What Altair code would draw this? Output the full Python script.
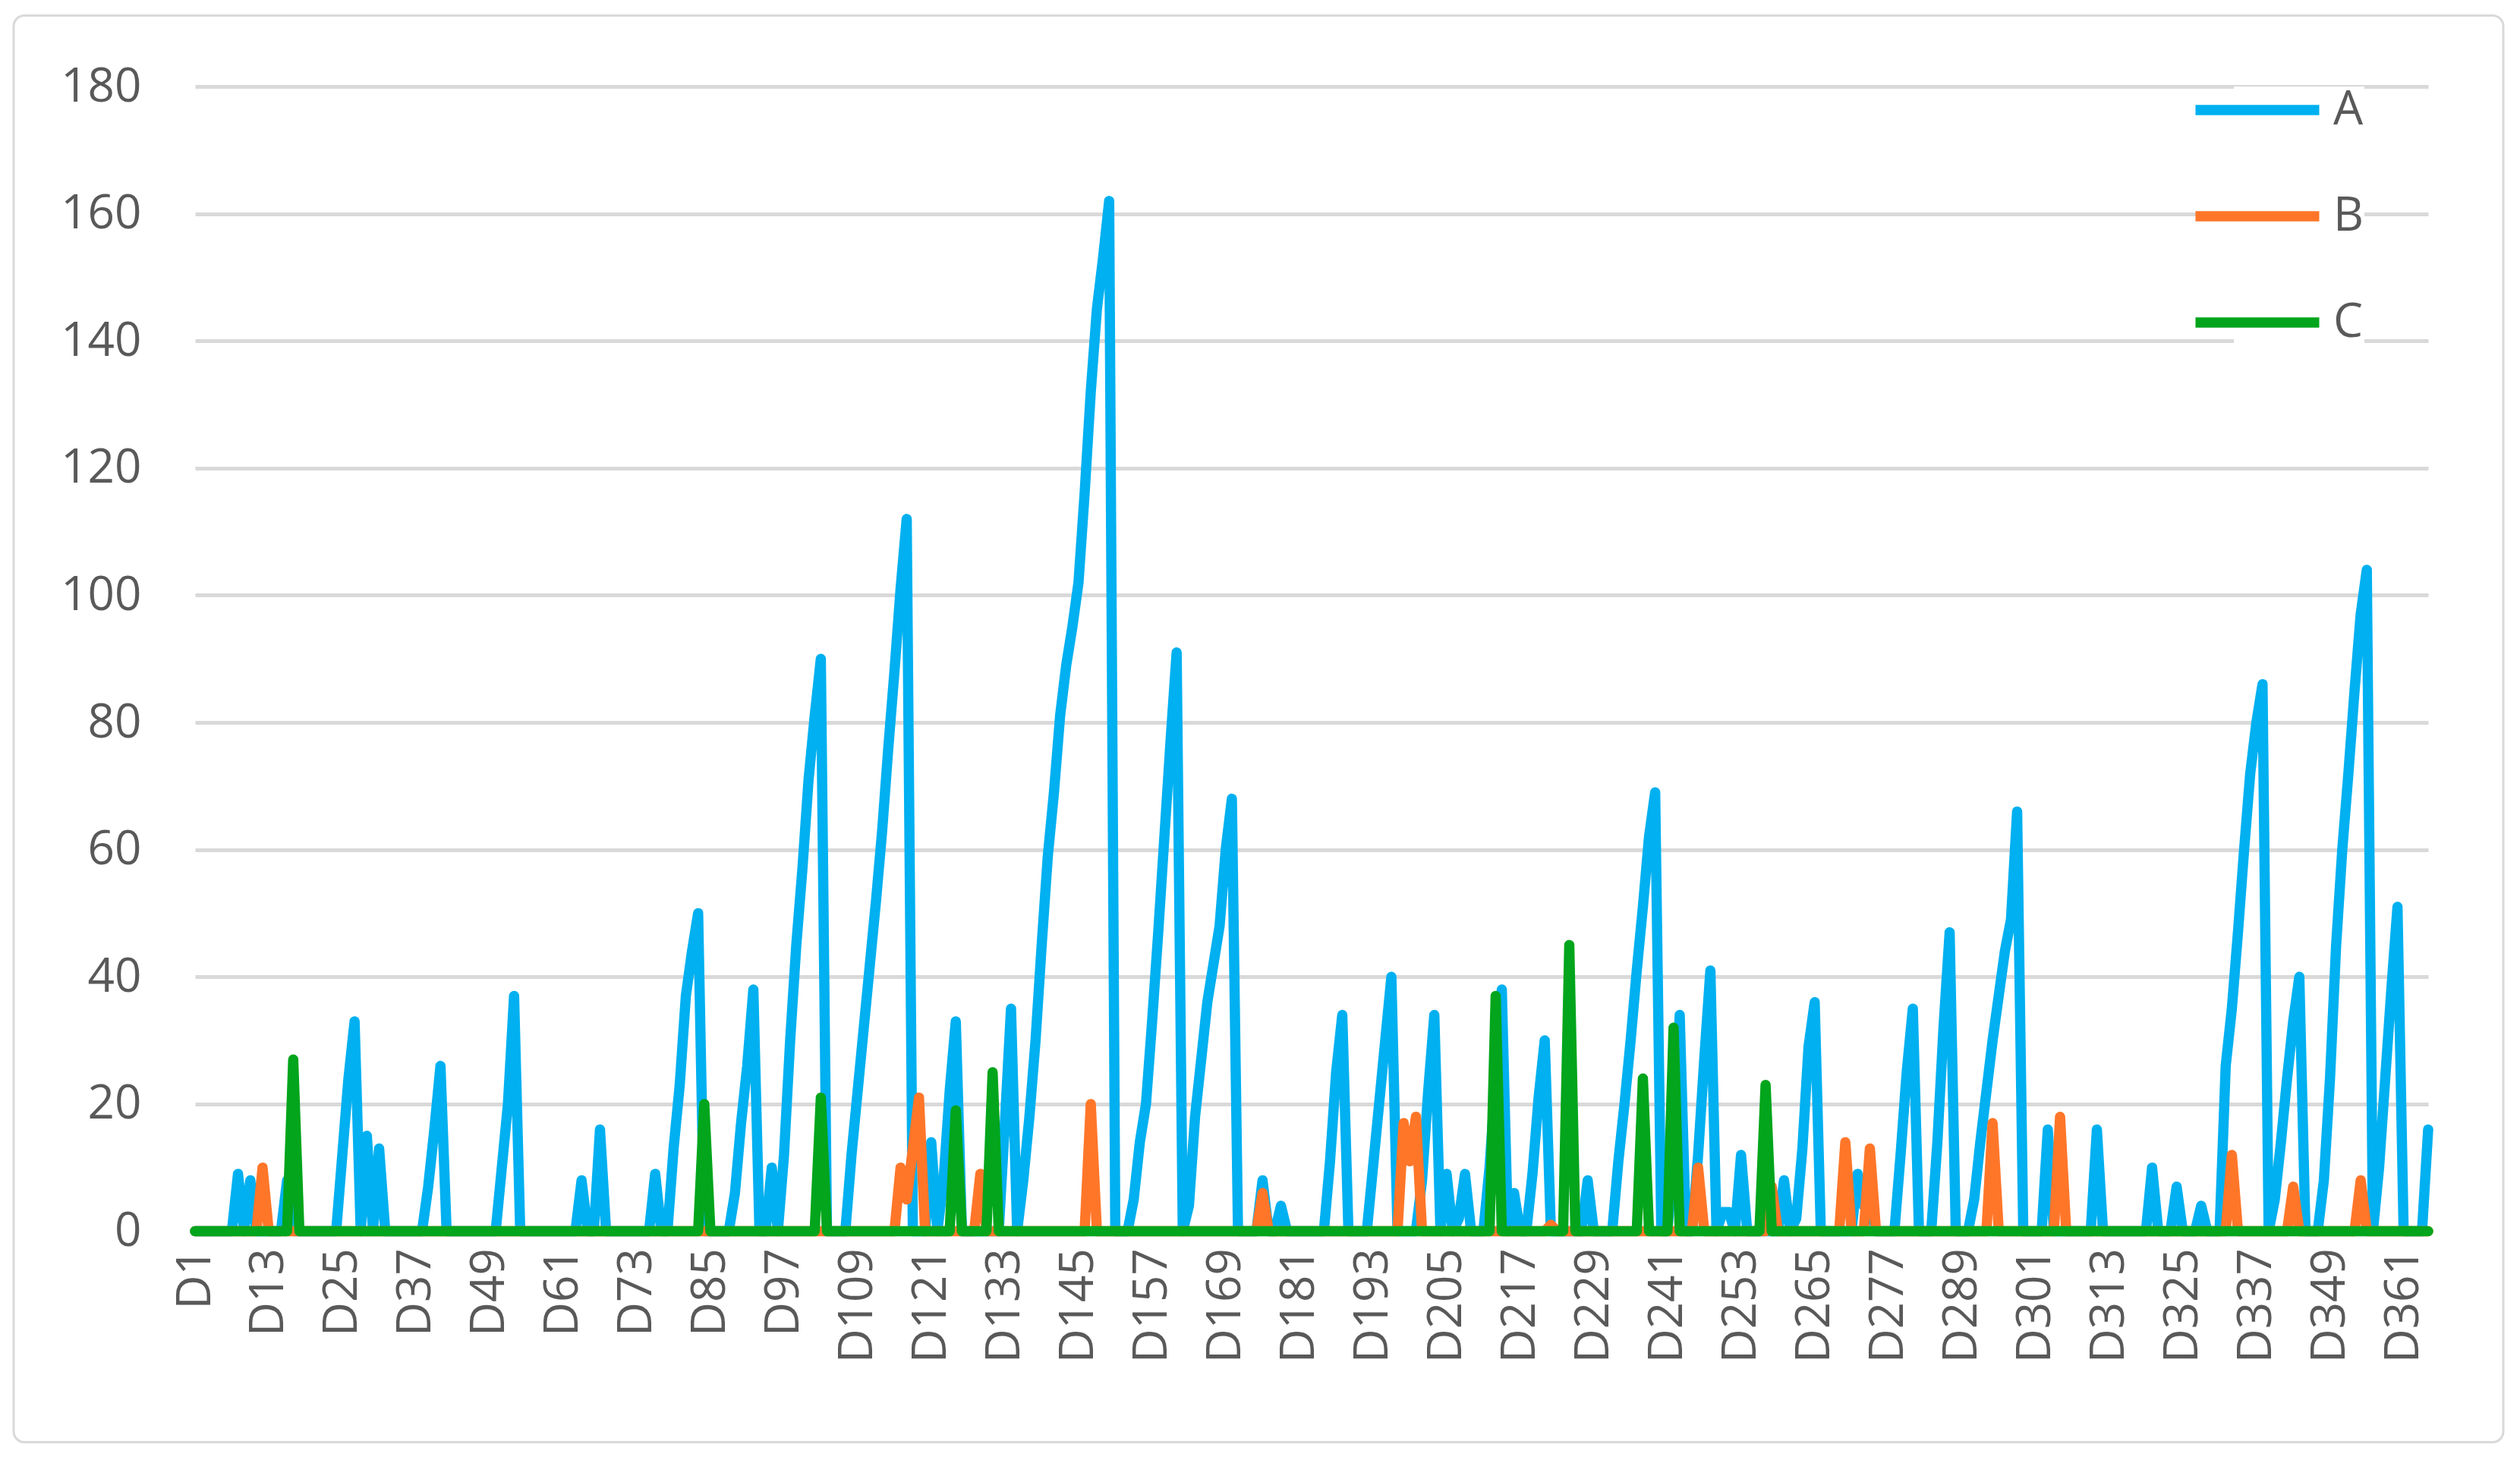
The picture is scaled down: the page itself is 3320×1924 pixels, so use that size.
import altair as alt
import pandas as pd

FONT = "Open Sans"
SERIES = ["A", "B", "C"]
COLORS = ["#00B0F0", "#FF7629", "#02A51C"]
Y_TICKS = [0, 20, 40, 60, 80, 100, 120, 140, 160, 180]
X_TICK_DAYS = [1, 13, 25, 37, 49, 61, 73, 85, 97, 109, 121, 133, 145, 157, 169, 181,
               193, 205, 217, 229, 241, 253, 265, 277, 289, 301, 313, 325, 337, 349, 361]

# Series A, ten days per row (D1-D10, D11-D20, ...)
A_ROWS = [
    [0, 0, 0, 0, 0, 0, 0, 9, 0, 8],
    [0, 0, 0, 0, 0, 8, 0, 0, 0, 0],
    [0, 0, 0, 0, 12, 24, 33, 0, 15, 0],
    [13, 0, 0, 0, 0, 0, 0, 0, 7, 16],
    [26, 0, 0, 0, 0, 0, 0, 0, 0, 0],
    [10, 20, 37, 0, 0, 0, 0, 0, 0, 0],
    [0, 0, 0, 8, 0, 0, 16, 0, 0, 0],
    [0, 0, 0, 0, 0, 9, 0, 0, 13, 23],
    [37, 44, 50, 0, 0, 0, 0, 0, 6, 17],
    [26, 38, 0, 0, 10, 0, 12, 30, 45, 57],
    [71, 81, 90, 0, 0, 0, 0, 12, 22, 32],
    [42, 52, 63, 76, 88, 101, 112, 0, 0, 0],
    [14, 0, 8, 22, 33, 0, 0, 0, 0, 0],
    [0, 0, 17, 35, 0, 8, 18, 30, 45, 59],
    [69, 81, 89, 95, 102, 116, 132, 145, 153, 162],
    [0, 0, 0, 5, 14, 20, 33, 47, 62, 77],
    [91, 0, 4, 18, 27, 36, 42, 48, 60, 68],
    [0, 0, 0, 0, 8, 0, 0, 4, 0, 0],
    [0, 0, 0, 0, 0, 11, 25, 34, 0, 0],
    [0, 0, 10, 20, 30, 40, 0, 0, 0, 0],
    [8, 22, 34, 0, 9, 0, 2, 9, 0, 0],
    [0, 10, 24, 38, 0, 6, 0, 0, 9, 21],
    [30, 0, 0, 0, 0, 0, 0, 8, 0, 0],
    [0, 0, 11, 20, 30, 41, 51, 62, 69, 0],
    [0, 12, 34, 0, 0, 12, 27, 41, 0, 3],
    [3, 0, 12, 0, 0, 0, 0, 0, 0, 8],
    [0, 2, 13, 29, 36, 0, 0, 0, 0, 0],
    [0, 9, 4, 5, 0, 0, 0, 0, 12, 25],
    [35, 0, 0, 0, 14, 32, 47, 0, 0, 0],
    [5, 14, 22, 30, 37, 44, 49, 66, 0, 0],
    [0, 0, 16, 0, 0, 0, 0, 0, 0, 0],
    [16, 0, 0, 0, 0, 0, 0, 0, 0, 10],
    [0, 0, 0, 7, 0, 0, 0, 4, 0, 0],
    [0, 26, 35, 47, 60, 72, 80, 86, 0, 5],
    [14, 24, 33, 40, 0, 0, 0, 8, 24, 45],
    [60, 72, 85, 97, 104, 0, 10, 24, 38, 51],
    [0, 0, 0, 0, 16],
]

B_ROWS = [
    [0, 0, 0, 0, 0, 0, 0, 0, 0, 0],
    [0, 10, 0, 0, 0, 0, 0, 0, 0, 0],
    [0, 0, 0, 0, 0, 0, 0, 0, 0, 0],
    [0, 0, 0, 0, 0, 0, 0, 0, 0, 0],
    [0, 0, 0, 0, 0, 0, 0, 0, 0, 0],
    [0, 0, 0, 0, 0, 0, 0, 0, 0, 0],
    [0, 0, 0, 0, 0, 0, 0, 0, 0, 0],
    [0, 0, 0, 0, 0, 0, 0, 0, 0, 0],
    [0, 0, 0, 0, 0, 0, 0, 0, 0, 0],
    [0, 0, 0, 0, 0, 0, 0, 0, 0, 0],
    [0, 0, 0, 0, 0, 0, 0, 0, 0, 0],
    [0, 0, 0, 0, 0, 10, 5, 13, 21, 0],
    [0, 0, 0, 0, 0, 0, 0, 0, 9, 0],
    [0, 0, 0, 0, 0, 0, 0, 0, 0, 0],
    [0, 0, 0, 0, 0, 0, 20, 0, 0, 0],
    [0, 0, 0, 0, 0, 0, 0, 0, 0, 0],
    [0, 0, 0, 0, 0, 0, 0, 0, 0, 0],
    [0, 0, 0, 0, 6, 0, 0, 0, 0, 0],
    [0, 0, 0, 0, 0, 0, 0, 0, 0, 0],
    [0, 0, 0, 0, 0, 0, 0, 17, 11, 18],
    [0, 0, 0, 0, 0, 0, 0, 0, 0, 0],
    [0, 0, 0, 0, 0, 0, 0, 0, 0, 0],
    [0, 1, 0, 0, 0, 0, 0, 0, 0, 0],
    [0, 0, 0, 0, 0, 0, 0, 0, 0, 0],
    [0, 0, 0, 0, 0, 10, 0, 0, 0, 0],
    [0, 0, 0, 0, 0, 0, 0, 7, 0, 0],
    [0, 0, 0, 0, 0, 0, 0, 0, 0, 14],
    [0, 0, 0, 13, 0, 0, 0, 0, 0, 0],
    [0, 0, 0, 0, 0, 0, 0, 0, 0, 0],
    [0, 0, 0, 17, 0, 0, 0, 0, 0, 0],
    [0, 0, 0, 0, 18, 0, 0, 0, 0, 0],
    [0, 0, 0, 0, 0, 0, 0, 0, 0, 0],
    [0, 0, 0, 0, 0, 0, 0, 0, 0, 0],
    [0, 0, 12, 0, 0, 0, 0, 0, 0, 0],
    [0, 0, 7, 0, 0, 0, 0, 0, 0, 0],
    [0, 0, 0, 8, 0, 0, 0, 0, 0, 0],
    [0, 0, 0, 0, 0],
]

C_ROWS = [
    [0, 0, 0, 0, 0, 0, 0, 0, 0, 0],
    [0, 0, 0, 0, 0, 0, 27, 0, 0, 0],
    [0, 0, 0, 0, 0, 0, 0, 0, 0, 0],
    [0, 0, 0, 0, 0, 0, 0, 0, 0, 0],
    [0, 0, 0, 0, 0, 0, 0, 0, 0, 0],
    [0, 0, 0, 0, 0, 0, 0, 0, 0, 0],
    [0, 0, 0, 0, 0, 0, 0, 0, 0, 0],
    [0, 0, 0, 0, 0, 0, 0, 0, 0, 0],
    [0, 0, 0, 20, 0, 0, 0, 0, 0, 0],
    [0, 0, 0, 0, 0, 0, 0, 0, 0, 0],
    [0, 0, 21, 0, 0, 0, 0, 0, 0, 0],
    [0, 0, 0, 0, 0, 0, 0, 0, 0, 0],
    [0, 0, 0, 0, 19, 0, 0, 0, 0, 0],
    [25, 0, 0, 0, 0, 0, 0, 0, 0, 0],
    [0, 0, 0, 0, 0, 0, 0, 0, 0, 0],
    [0, 0, 0, 0, 0, 0, 0, 0, 0, 0],
    [0, 0, 0, 0, 0, 0, 0, 0, 0, 0],
    [0, 0, 0, 0, 0, 0, 0, 0, 0, 0],
    [0, 0, 0, 0, 0, 0, 0, 0, 0, 0],
    [0, 0, 0, 0, 0, 0, 0, 0, 0, 0],
    [0, 0, 0, 0, 0, 0, 0, 0, 0, 0],
    [0, 0, 37, 0, 0, 0, 0, 0, 0, 0],
    [0, 0, 0, 0, 45, 0, 0, 0, 0, 0],
    [0, 0, 0, 0, 0, 0, 24, 0, 0, 0],
    [0, 32, 0, 0, 0, 0, 0, 0, 0, 0],
    [0, 0, 0, 0, 0, 0, 23, 0, 0, 0],
    [0, 0, 0, 0, 0, 0, 0, 0, 0, 0],
    [0, 0, 0, 0, 0, 0, 0, 0, 0, 0],
    [0, 0, 0, 0, 0, 0, 0, 0, 0, 0],
    [0, 0, 0, 0, 0, 0, 0, 0, 0, 0],
    [0, 0, 0, 0, 0, 0, 0, 0, 0, 0],
    [0, 0, 0, 0, 0, 0, 0, 0, 0, 0],
    [0, 0, 0, 0, 0, 0, 0, 0, 0, 0],
    [0, 0, 0, 0, 0, 0, 0, 0, 0, 0],
    [0, 0, 0, 0, 0, 0, 0, 0, 0, 0],
    [0, 0, 0, 0, 0, 0, 0, 0, 0, 0],
    [0, 0, 0, 0, 0],
]

A = [v for row in A_ROWS for v in row]
B = [v for row in B_ROWS for v in row]
C = [v for row in C_ROWS for v in row]
DAYS = list(range(1, len(A) + 1))

records = []
for name, vals in zip(SERIES, [A, B, C]):
    for d, v in zip(DAYS, vals):
        records.append({"day": d, "series": name, "value": v})
df = pd.DataFrame(records)

W, H = 2942, 1508.5
LABEL_COLOR = "#595959"
GRID_COLOR = "#D9D9D9"
FS = 62

frame = alt.Chart(pd.DataFrame({"k": [0]})).mark_rect(
    fillOpacity=0, stroke=GRID_COLOR, strokeWidth=3, cornerRadius=14, clip=False
).encode(
    x=alt.value(-239), x2=alt.value(3041), y=alt.value(-93.5), y2=alt.value(1786.5)
)

lines = alt.Chart(df).mark_line(
    strokeWidth=13.5, strokeCap="round", strokeJoin="round"
).encode(
    x=alt.X("day:Q",
            scale=alt.Scale(domain=[1, 365], nice=False, zero=False),
            axis=alt.Axis(values=X_TICK_DAYS, labelExpr="'D' + datum.value",
                          labelAngle=270, grid=False, ticks=False, domain=False,
                          labelPadding=22, labelFontSize=FS, labelColor=LABEL_COLOR,
                          labelFont=FONT, title=None, labelOverlap=False)),
    y=alt.Y("value:Q",
            scale=alt.Scale(domain=[0, 180], nice=False),
            axis=alt.Axis(values=Y_TICKS, grid=True, gridColor=GRID_COLOR, gridWidth=5,
                          ticks=False, domain=False, labelPadding=71, labelFontSize=FS,
                          labelColor=LABEL_COLOR, labelFont=FONT, title=None)),
    color=alt.Color("series:N",
                    scale=alt.Scale(domain=SERIES, range=COLORS),
                    legend=alt.Legend(title=None, orient="none", direction="vertical",
                                      legendX=2686, legendY=0,
                                      symbolType="M-4,0H4", symbolSize=1661,
                                      symbolStrokeWidth=13.5, labelFontSize=FS,
                                      labelColor=LABEL_COLOR, labelFont=FONT,
                                      labelOffset=69, rowPadding=78, padding=0,
                                      fillColor="white")),
)

chart = alt.layer(frame, lines).properties(
    width=W, height=H,
    padding={"left": 249, "top": 106, "right": 105, "bottom": 285},
    autosize=alt.AutoSizeParams(type="none"),
    background="white",
).configure_view(strokeWidth=0)

chart.save("out.html", embed_options={"renderer": "svg", "actions": False})
